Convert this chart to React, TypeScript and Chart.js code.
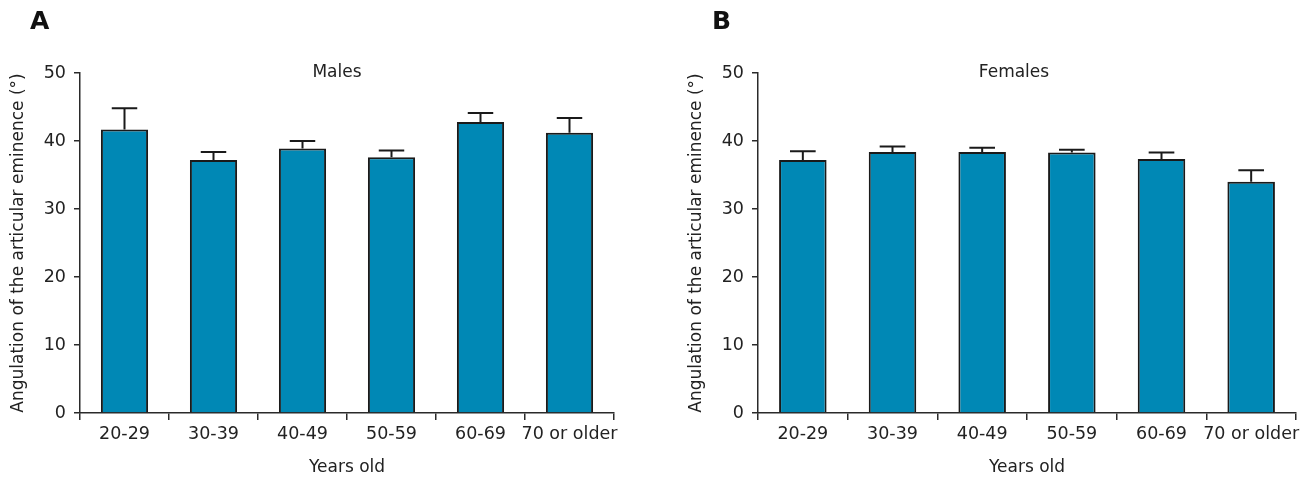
import React, { useEffect, useRef } from 'react';
import { Chart, registerables } from 'chart.js';
Chart.register(...registerables);

const categories = ['20-29', '30-39', '40-49', '50-59', '60-69', '70 or older'];
const malesMean = [41.7, 37.2, 38.9, 37.6, 42.8, 41.2];
const malesUpper = [44.8, 38.4, 40.0, 38.6, 44.1, 43.4];
const femalesMean = [37.2, 38.4, 38.4, 38.3, 37.35, 34.0];
const femalesUpper = [38.5, 39.2, 39.0, 38.7, 38.3, 35.7];
const yTicks = [0, 10, 20, 30, 40, 50];

const FONT = '"DejaVu Sans", sans-serif';
const TEXT = '#222';
const AXIS = '#2a2a2a';

type PanelProps = {
  means: number[];
  upper: number[];
  letter: string;
  letterX: number;
  subtitle: string;
  subtitleX: number;
  padLeft: number;
  padRight: number;
};

function Panel({ means, upper, letter, letterX, subtitle, subtitleX, padLeft, padRight }: PanelProps) {
  const ref = useRef<HTMLCanvasElement | null>(null);
  useEffect(() => {
    if (!ref.current) return;
    const overlay = {
      id: 'overlay',
      afterDatasetsDraw(chart: any) {
        const ctx = chart.ctx;
        const meta = chart.getDatasetMeta(0);
        const ys = chart.scales.y;
        ctx.save();
        ctx.strokeStyle = '#1a1a1a';
        ctx.lineWidth = 2;
        meta.data.forEach((el: any, i: number) => {
          const top = ys.getPixelForValue(upper[i]);
          const half = el.width * 0.27;
          ctx.beginPath();
          ctx.moveTo(el.x, el.y);
          ctx.lineTo(el.x, top);
          ctx.moveTo(el.x - half, top);
          ctx.lineTo(el.x + half, top);
          ctx.stroke();
        });
        ctx.fillStyle = '#111';
        ctx.font = `bold 25px ${FONT}`;
        ctx.textAlign = 'left';
        ctx.textBaseline = 'middle';
        ctx.fillText(letter, letterX, 22);
        ctx.fillStyle = TEXT;
        ctx.font = `17px ${FONT}`;
        ctx.textAlign = 'center';
        ctx.fillText(subtitle, subtitleX, chart.chartArea.top);
        ctx.restore();
      },
    };
    const chart = new Chart(ref.current, {
      type: 'bar',
      data: {
        labels: categories,
        datasets: [
          {
            data: means,
            backgroundColor: '#0088b5',
            borderColor: '#1a1a1a',
            borderWidth: 2,
            borderSkipped: 'bottom',
            categoryPercentage: 1,
            barPercentage: 0.53,
          },
        ],
      },
      options: {
        responsive: false,
        animation: false,
        layout: { padding: { left: padLeft, right: padRight, top: 73, bottom: 0 } },
        plugins: { legend: { display: false }, tooltip: { enabled: false } },
        scales: {
          x: {
            offset: true,
            grid: { display: true, drawOnChartArea: false, tickLength: 7, color: AXIS, lineWidth: 1.5, offset: true },
            border: { display: true, color: AXIS, width: 1.5 },
            ticks: { color: TEXT, font: { family: FONT, size: 17.5 }, padding: 4, maxRotation: 0, autoSkip: false },
            title: { display: true, text: 'Years old', color: TEXT, font: { family: FONT, size: 17 }, padding: { top: 0, bottom: 0 } },
            afterFit(scale: any) {
              scale.height = 65;
            },
          },
          y: {
            min: 0,
            max: 50,
            grid: { display: true, drawOnChartArea: false, tickLength: 6, color: AXIS, lineWidth: 1.5 },
            border: { display: true, color: AXIS, width: 1.5 },
            ticks: { color: TEXT, font: { family: FONT, size: 17.5 }, padding: 8 },
            afterBuildTicks(scale: any) {
              scale.ticks = yTicks.map((v) => ({ value: v }));
            },
            title: {
              display: true,
              text: 'Angulation of the articular eminence (°)',
              color: TEXT,
              font: { family: FONT, size: 17 },
              padding: { top: 8, bottom: 0 },
            },
            afterFit(scale: any) {
              scale.width = 80;
            },
          },
        },
      },
      plugins: [overlay],
    });
    return () => chart.destroy();
  }, []);
  return <canvas ref={ref} width={654} height={478} style={{ width: 654, height: 478, display: 'block' }} />;
}

export default function App() {
  return (
    <div style={{ position: 'absolute', left: 0, top: 0, width: 1308, height: 478, display: 'flex', background: '#fff' }}>
      <Panel means={malesMean} upper={malesUpper} letter="A" letterX={30} subtitle="Males" subtitleX={337} padLeft={0} padRight={40} />
      <Panel means={femalesMean} upper={femalesUpper} letter="B" letterX={58} subtitle="Females" subtitleX={360} padLeft={24} padRight={12} />
    </div>
  );
}
